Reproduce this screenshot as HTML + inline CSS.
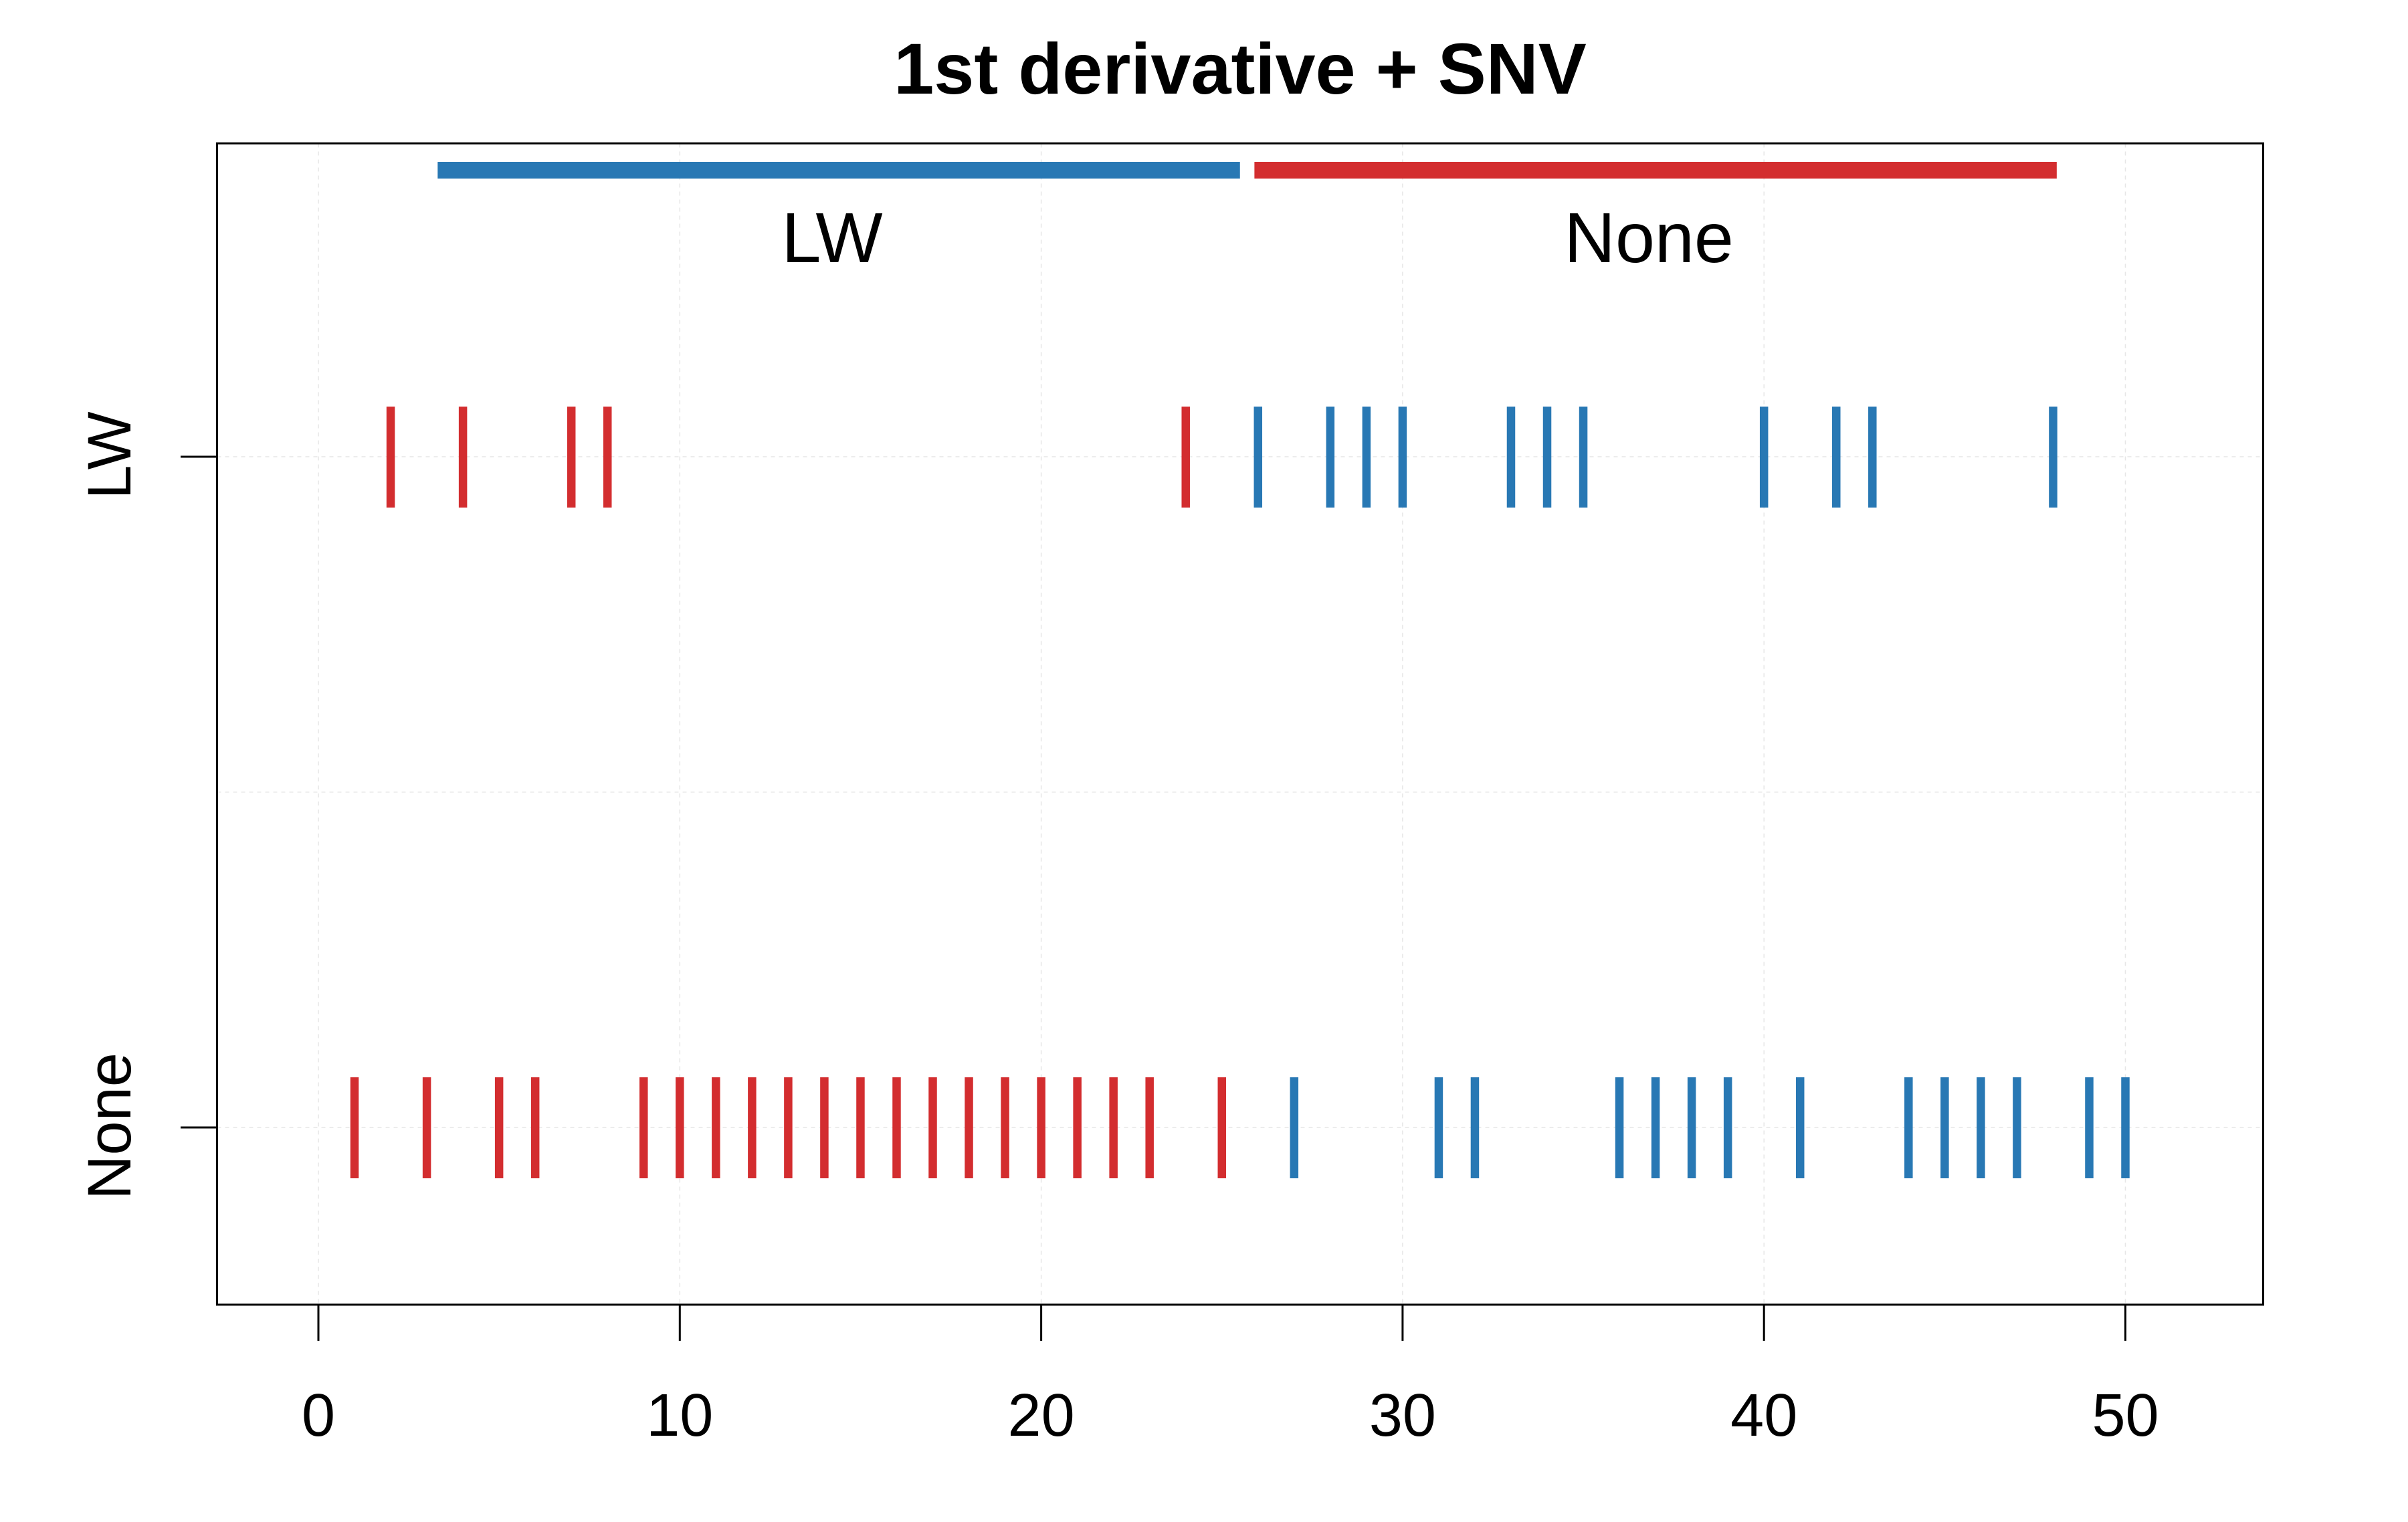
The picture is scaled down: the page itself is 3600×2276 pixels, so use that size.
<!DOCTYPE html>
<html><head><meta charset="utf-8"><style>
html,body{margin:0;padding:0;background:#fff;}
svg{display:block;font-family:"Liberation Sans",Arial,sans-serif;}
</style></head><body>
<svg id="chart" width="3600" height="2276" viewBox="0 0 3600 2276" xmlns="http://www.w3.org/2000/svg">
<rect width="3600" height="2276" fill="#fff"/>
<g id="grid"></g>
<g id="marks"></g>
<g id="axes"></g>
<text x="1854" y="140" text-anchor="middle" font-size="108" font-weight="bold">1st derivative + SNV</text>
</svg>
<script>
const xTicks = [0, 10, 20, 30, 40, 50];
const rowLabels = ["LW", "None"];
const rowValues = [2, 1];
const lwRed = [2, 4, 7, 8, 24];
const lwBlue = [26, 28, 29, 30, 33, 34, 35, 40, 42, 43, 48];
const noneRed = [1, 3, 5, 6, 9, 10, 11, 12, 13, 14, 15, 16, 17, 18, 19, 20, 21, 22, 23, 25];
const noneBlue = [27, 31, 32, 36, 37, 38, 39, 41, 44, 45, 46, 47, 49, 50];
const groupLabels = ["LW", "None"];
const groupStart = [3.3, 25.9];
const groupEnd = [25.5, 48.1];

const NS = "http://www.w3.org/2000/svg";
const BLUE = "#2878b4", RED = "#d32d2f";
const L = 324.5, R = 3383.5, T = 214.5, B = 1951;
function X(v){ return 476 + v * 54.03; }
function Y(v){ return 1686 - (v - 1) * 1003; }
function mk(tag, attrs, parent){
  const e = document.createElementNS(NS, tag);
  for (const k in attrs) e.setAttribute(k, attrs[k]);
  parent.appendChild(e); return e;
}
const grid = document.getElementById('grid');
const marks = document.getElementById('marks');
const axes = document.getElementById('axes');

xTicks.forEach(t => {
  const g = mk('line', {x1:X(t), x2:X(t), y1:T, y2:B, stroke:'#e6e6e6', 'stroke-width':1.5, 'stroke-dasharray':'6 6'}, grid);
  
  
});
[2, 1.5, 1].forEach(v => {
  const g = mk('line', {x1:L, x2:R, y1:Y(v), y2:Y(v), stroke:'#e6e6e6', 'stroke-width':1.5, 'stroke-dasharray':'6 6'}, grid);
  
  
});

function drawRow(vals, rowVal, color, name){
  vals.forEach(v => {
    const m = mk('line', {x1:X(v), x2:X(v), y1:Y(rowVal)-75, y2:Y(rowVal)+76, stroke:color, 'stroke-width':12.5}, marks);
    
    
  });
}
drawRow(lwRed, 2, RED, 'lw-red-mark');
drawRow(lwBlue, 2, BLUE, 'lw-blue-mark');
drawRow(noneRed, 1, RED, 'none-red-mark');
drawRow(noneBlue, 1, BLUE, 'none-blue-mark');

const gColors = [BLUE, RED];
groupLabels.forEach((lab, i) => {
  const b = mk('rect', {x:X(groupStart[i]), y:242, width:X(groupEnd[i]) - X(groupStart[i]), height:25, fill:gColors[i]}, marks);
  
  
  const t = mk('text', {x:(X(groupStart[i]) + X(groupEnd[i])) / 2 - 10, y:392, 'text-anchor':'middle', 'font-size':106}, marks);
  t.textContent = lab;
  
  
});

const box = mk('rect', {x:L, y:T, width:R-L, height:B-T, fill:'none', stroke:'#000', 'stroke-width':3}, axes);


xTicks.forEach(t => {
  const tk = mk('line', {x1:X(t), x2:X(t), y1:B, y2:2005, stroke:'#000', 'stroke-width':3}, axes);
  
  
  const lb = mk('text', {x:X(t), y:2147, 'text-anchor':'middle', 'font-size':90}, axes);
  lb.textContent = t;
  
  
});
rowLabels.forEach((lab, i) => {
  const y = Y(rowValues[i]);
  const tk = mk('line', {x1:270, x2:L, y1:y, y2:y, stroke:'#000', 'stroke-width':3}, axes);
  
  
  const lb = mk('text', {x:0, y:0, 'text-anchor':'middle', 'font-size':92, transform:'translate(195,' + (y-2) + ') rotate(-90)'}, axes);
  lb.textContent = lab;
  
  
});
</script>
</body></html>
